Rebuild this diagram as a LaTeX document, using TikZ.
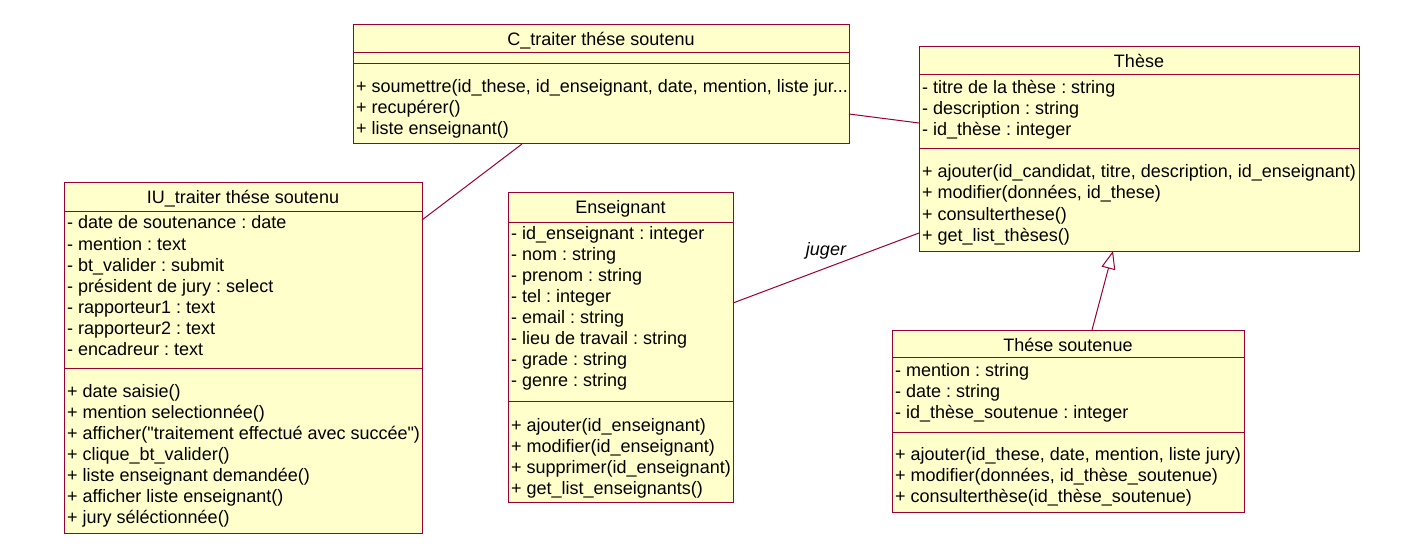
\documentclass[tikz,border=0pt]{standalone}
\usepackage{fontspec}
\setmainfont{Liberation Sans}[Ligatures=TeXOff]
\usepackage{tikz}
\usetikzlibrary{calc,arrows.meta}
\definecolor{umlred}{RGB}{153,0,51}
\definecolor{umlfill}{RGB}{255,255,204}
\frenchspacing

\begin{document}
\begin{tikzpicture}[x=1pt,y=-1pt,
    classbox/.style={draw=umlred,fill=umlfill,line width=1pt,inner sep=0pt,outer sep=0pt,anchor=north west},
    sepline/.style={draw=umlred,line width=1pt},
    txt/.style={inner sep=0pt,anchor=base west,font=\fontsize{18}{21}\selectfont},
    ttl/.style={inner sep=0pt,anchor=base,font=\fontsize{18}{21}\selectfont},
    assoc/.style={draw=umlred,line width=1pt}]
  \useasboundingbox (0,0) rectangle (1425,559);
  % C_traiter these soutenu
  \node[classbox,minimum width=496pt,minimum height=119pt](ctrl)at(353,25){};
  \draw[sepline] ($(ctrl.north west)+(0,28)$) -- ($(ctrl.north east)+(0,28)$);
  \draw[sepline] ($(ctrl.north west)+(0,39)$) -- ($(ctrl.north east)+(0,39)$);
  \node[ttl](ctrl-t)at($(ctrl.north)+(0,21)$){C\_traiter thése soutenu};
  \foreach \m [count=\i] in {{+ soumettre(id\_these, id\_enseignant, date, mention, liste jur.{}.{}.},
      {+ recupérer()},{+ liste enseignant()}}
    \node[txt](ctrl-m\i)at($(ctrl.north west)+(3,{47+21*\i})$){\m};
  % These
  \node[classbox,minimum width=440pt,minimum height=204pt](these)at(919,47){};
  \draw[sepline] ($(these.north west)+(0,28)$) -- ($(these.north east)+(0,28)$);
  \draw[sepline] ($(these.north west)+(0,102)$) -- ($(these.north east)+(0,102)$);
  \node[ttl](these-t)at($(these.north)+(0,21)$){Thèse};
  \foreach \a [count=\i] in {{- titre de la thèse : string},{- description : string},{- id\_thèse : integer}}
    \node[txt](these-a\i)at($(these.north west)+(3,{26+21*\i})$){\a};
  \foreach \m [count=\i] in {{+ ajouter(id\_candidat, titre, description, id\_enseignant)},
      {+ modifier(données, id\_these)},{+ consulterthese()},{+ get\_list\_thèses()}}
    \node[txt](these-m\i)at($(these.north west)+(3,{110+21*\i})$){\m};
  % IU_traiter these soutenu
  \node[classbox,minimum width=358pt,minimum height=350pt](iu)at(64,183){};
  \draw[sepline] ($(iu.north west)+(0,28)$) -- ($(iu.north east)+(0,28)$);
  \draw[sepline] ($(iu.north west)+(0,185)$) -- ($(iu.north east)+(0,185)$);
  \node[ttl](iu-t)at($(iu.north)+(0,21)$){IU\_traiter thése soutenu};
  \foreach \a [count=\i] in {{- date de soutenance : date},{- mention : text},{- bt\_valider : submit},
      {- président de jury : select},{- rapporteur1 : text},{- rapporteur2 : text},{- encadreur : text}}
    \node[txt](iu-a\i)at($(iu.north west)+(3,{25+21*\i})$){\a};
  \foreach \m [count=\i] in {{+ date saisie()},{+ mention selectionnée()},
      {+ afficher("traitement effectué avec succée")},{+ clique\_bt\_valider()},
      {+ liste enseignant demandée()},{+ afficher liste enseignant()},{+ jury séléctionnée()}}
    \node[txt](iu-m\i)at($(iu.north west)+(3,{193+21*\i})$){\m};
  % Enseignant
  \node[classbox,minimum width=225pt,minimum height=309pt](ens)at(508,193){};
  \draw[sepline] ($(ens.north west)+(0,29)$) -- ($(ens.north east)+(0,29)$);
  \draw[sepline] ($(ens.north west)+(0,208)$) -- ($(ens.north east)+(0,208)$);
  \node[ttl](ens-t)at($(ens.north)+(0,21)$){Enseignant};
  \foreach \a [count=\i] in {{- id\_enseignant : integer},{- nom : string},{- prenom : string},
      {- tel : integer},{- email : string},{- lieu de travail : string},{- grade : string},{- genre : string}}
    \node[txt](ens-a\i)at($(ens.north west)+(3,{25.5+21*\i})$){\a};
  \foreach \m [count=\i] in {{+ ajouter(id\_enseignant)},{+ modifier(id\_enseignant)},
      {+ supprimer(id\_enseignant)},{+ get\_list\_enseignants()}}
    \node[txt](ens-m\i)at($(ens.north west)+(3,{217+21*\i})$){\m};
  % These soutenue
  \node[classbox,minimum width=352pt,minimum height=182pt](ts)at(892,330){};
  \draw[sepline] ($(ts.north west)+(0,27)$) -- ($(ts.north east)+(0,27)$);
  \draw[sepline] ($(ts.north west)+(0,102)$) -- ($(ts.north east)+(0,102)$);
  \node[ttl](ts-t)at($(ts.north)+(0,21)$){Thése soutenue};
  \foreach \a [count=\i] in {{- mention : string},{- date : string},{- id\_thèse\_soutenue : integer}}
    \node[txt](ts-a\i)at($(ts.north west)+(3,{25+21*\i})$){\a};
  \foreach \m [count=\i] in {{+ ajouter(id\_these, date, mention, liste jury)},
      {+ modifier(données, id\_thèse\_soutenue)},{+ consulterthèse(id\_thèse\_soutenue)}}
    \node[txt](ts-m\i)at($(ts.north west)+(3,{109+21*\i})$){\m};
  % links
  \draw[assoc] ([yshift=-29.5pt]ctrl.east) -- ([yshift=26pt]these.west);
  \draw[assoc] ([xshift=-79pt]ctrl.south) -- ([yshift=138pt]iu.east);
  \draw[assoc] ([yshift=44.5pt]ens.east) -- node[above=8pt,inner sep=0pt,font=\fontsize{18}{21}\selectfont\itshape](juger){juger} ([yshift=-84pt]these.west);
  \draw[assoc,-{Triangle[open,length=18pt,width=14pt]}] ([xshift=24pt]ts.north) -- ([xshift=-26pt]these.south);
\end{tikzpicture}
\end{document}
